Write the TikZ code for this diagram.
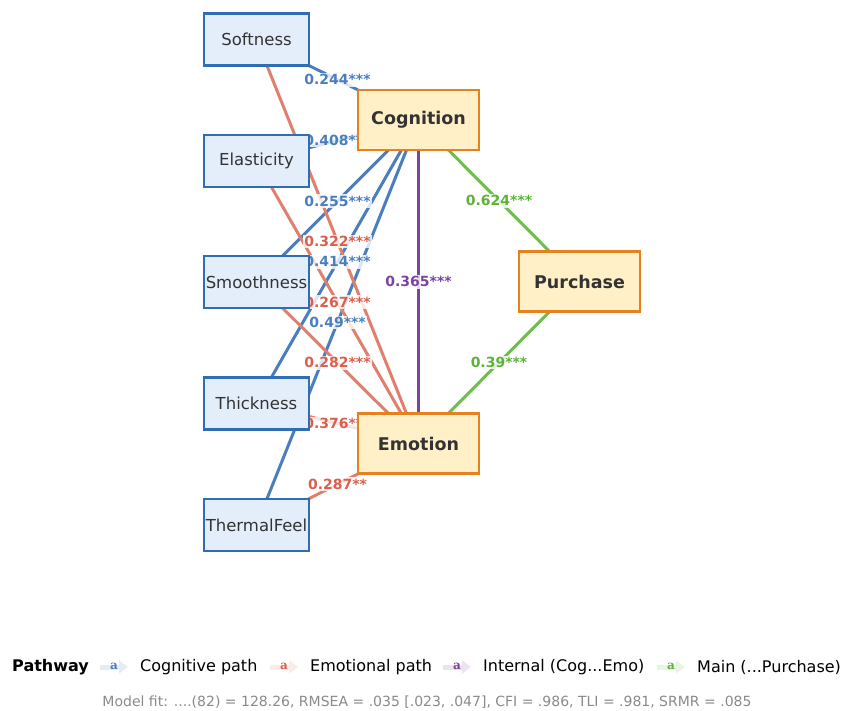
\documentclass[tikz,border=0pt]{standalone}
\usepackage{fontspec}
\setmainfont{DejaVu Sans}
\newfontfamily\handfont{DejaVu Serif}
\usetikzlibrary{arrows.meta}
\definecolor{cogblue}{HTML}{4A7FBF}
\definecolor{emored}{HTML}{E07F6E}
\definecolor{emotext}{HTML}{D95F4E}
\definecolor{intpurple}{HTML}{7E42A0}
\definecolor{maingreen}{HTML}{6DBE4B}
\definecolor{maintext}{HTML}{5DB33A}
\definecolor{attrline}{HTML}{2F6EB5}
\definecolor{attrfill}{HTML}{E4EEFA}
\definecolor{latline}{HTML}{E6821E}
\definecolor{latfill}{HTML}{FFF0C8}
\definecolor{txtgray}{HTML}{333333}
\definecolor{fitgray}{HTML}{8A8A8A}
\pgfdeclarelayer{edges}
\pgfdeclarelayer{labels}
\pgfsetlayers{edges,labels,main}

\begin{document}
\begin{tikzpicture}[x=1pt,y=-1pt,font=\fontsize{16.5}{19}\selectfont,
attr/.style={draw=attrline,fill=attrfill,line width=2.2pt,minimum width=105pt,minimum height=52pt,inner sep=0pt,text=txtgray},
latent/.style={draw=latline,fill=latfill,line width=2.8pt,minimum width=121pt,minimum height=60pt,inner sep=0pt,text=txtgray,font=\fontsize{17.5}{20}\selectfont\bfseries},
lbl/.style={fill=white,fill opacity=0.8,text opacity=1,inner sep=1.5pt,font=\fontsize{14}{16}\selectfont\bfseries},
cogpath/.style={draw=cogblue,line width=3pt},
emopath/.style={draw=emored,line width=3pt},
intpath/.style={draw=intpurple,line width=3pt},
mainpath/.style={draw=maingreen,line width=3pt},
handle/.style={line width=5pt,-{Triangle[length=9pt,width=13pt]}},
hand/.style={inner sep=0pt,font=\handfont\fontsize{12}{14}\selectfont\bfseries},
legtext/.style={anchor=west,inner sep=0pt,font=\fontsize{16}{19}\selectfont}]
\useasboundingbox (0,0) rectangle (842,711);
% measured variables and constructs
\node[attr] (soft) at (256.5,39.5) {Softness};
\node[attr] (elas) at (256.5,161) {Elasticity};
\node[attr] (smooth) at (256.5,282) {Smoothness};
\node[attr] (thick) at (256.5,403.5) {Thickness};
\node[attr] (thermal) at (256.5,525) {ThermalFeel};
\node[latent] (cog) at (418.5,120) {Cognition};
\node[latent] (emo) at (418.5,443.5) {Emotion};
\node[latent] (pur) at (579.5,281.5) {Purchase};
% paths
\begin{pgfonlayer}{edges}
\draw[cogpath] (soft.center)--(cog.center); \draw[cogpath] (elas.center)--(cog.center);
\draw[cogpath] (smooth.center)--(cog.center); \draw[cogpath] (thick.center)--(cog.center);
\draw[cogpath] (thermal.center)--(cog.center);
\draw[emopath] (soft.center)--(emo.center); \draw[emopath] (elas.center)--(emo.center);
\draw[emopath] (smooth.center)--(emo.center); \draw[emopath] (thick.center)--(emo.center);
\draw[emopath] (thermal.center)--(emo.center);
\draw[intpath] (cog.center)--(emo.center);
\draw[mainpath] (cog.center)--(pur.center); \draw[mainpath] (emo.center)--(pur.center);
\end{pgfonlayer}
% coefficients
\begin{pgfonlayer}{labels}
\path (soft.center)--node[lbl,text=cogblue]{0.244***}(cog.center);
\path (elas.center)--node[lbl,text=cogblue]{0.408***}(cog.center);
\path (smooth.center)--node[lbl,text=cogblue]{0.255***}(cog.center);
\path (thick.center)--node[lbl,text=cogblue]{0.414***}(cog.center);
\path (thermal.center)--node[lbl,text=cogblue]{0.49***}(cog.center);
\path (soft.center)--node[lbl,text=emotext]{0.322***}(emo.center);
\path (elas.center)--node[lbl,text=emotext]{0.267***}(emo.center);
\path (smooth.center)--node[lbl,text=emotext]{0.282***}(emo.center);
\path (thick.center)--node[lbl,text=emotext]{0.376***}(emo.center);
\path (thermal.center)--node[lbl,text=emotext]{0.287**}(emo.center);
\path (cog.center)--node[lbl,text=intpurple]{0.365***}(emo.center);
\path (cog.center)--node[lbl,text=maintext]{0.624***}(pur.center);
\path (emo.center)--node[lbl,text=maintext]{0.39***}(pur.center);
\end{pgfonlayer}
% legend
\node[legtext,font=\fontsize{16}{19}\selectfont\bfseries] (legtitle) at (12,667) {Pathway};
\coordinate (h1) at (100,667); \coordinate (h1e) at (128,667);
\draw[handle,cogblue!15] (h1)--(h1e);
\node[hand,text=cogblue] (a1) at (114,666) {a};
\node[legtext] (leg1) at (140,667) {Cognitive path};
\coordinate (h2) at (270,667); \coordinate (h2e) at (298,667);
\draw[handle,emored!15] (h2)--(h2e);
\node[hand,text=emotext] (a2) at (284,666) {a};
\node[legtext] (leg2) at (310,667) {Emotional path};
\coordinate (h3) at (443,667); \coordinate (h3e) at (471,667);
\draw[handle,intpurple!15] (h3)--(h3e);
\node[hand,text=intpurple] (a3) at (457,666) {a};
\node[legtext] (leg3) at (483,667) {Internal (Cog...Emo)};
\coordinate (h4) at (657,667); \coordinate (h4e) at (685,667);
\draw[handle,maingreen!15] (h4)--(h4e);
\node[hand,text=maintext] (a4) at (671,666) {a};
\node[legtext] (leg4) at (697,667) {Main (...Purchase)};
\node[inner sep=0pt,text=fitgray,font=\fontsize{14}{16}\selectfont] (fit) at (427,702) {Model fit: ....(82) = 128.26, RMSEA = .035 [.023, .047], CFI = .986, TLI = .981, SRMR = .085};
\end{tikzpicture}
\end{document}
